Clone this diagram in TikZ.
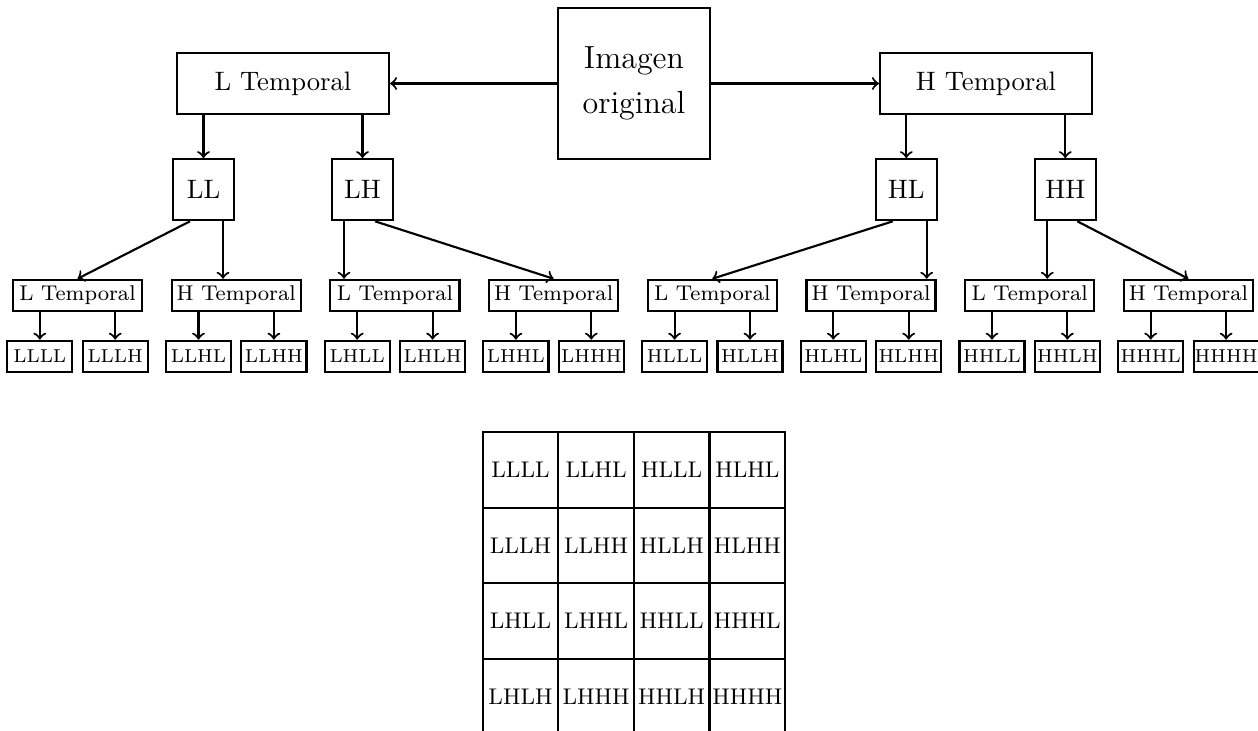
\documentclass[tikz,border=0pt]{standalone}
\usetikzlibrary{calc}
\begin{document}
\begin{tikzpicture}[x=0.375pt,y=-0.375pt,
  box/.style={draw, thick, inner sep=0pt, align=center},
  srcbox/.style={box, minimum width=57pt, minimum height=56.6pt, font=\large},
  topbox/.style={box, minimum width=79.5pt, minimum height=22.9pt},
  bandbox/.style={box, minimum width=22.9pt, minimum height=22.9pt},
  midbox/.style={box, minimum width=48.4pt, minimum height=11.6pt, font=\footnotesize},
  leafbox/.style={box, minimum width=24.4pt, minimum height=11.6pt, font=\scriptsize},
  cell/.style={box, minimum width=28.35pt, minimum height=28.35pt, font=\fontsize{8.5}{10}\selectfont},
  arr/.style={->, thick}]
\useasboundingbox (0,0) rectangle (1258,731);

% source image and first temporal split
\node[srcbox] (img) at (634,83.5) {Imagen\\[3pt]original};
\node[topbox] (LT) at (283,83.5) {L Temporal};
\node[topbox] (HT) at (986,83.5) {H Temporal};
\draw[arr] (img.west) -- (LT.east);
\draw[arr] (img.east) -- (HT.west);

% second level bands
\node[bandbox] (LL) at (203.5,189.7) {LL};
\node[bandbox] (LH) at (362.5,189.7) {LH};
\node[bandbox] (HL) at (906.3,189.7) {HL};
\node[bandbox] (HH) at (1065.3,189.7) {HH};
\foreach \p/\c in {LT/LL, LT/LH, HT/HL, HT/HH}
  \draw[arr] (\p.south -| \c) -- (\c.north);

% third temporal split
\foreach \i/\t in {1/L,2/H,3/L,4/H,5/L,6/H,7/L,8/H}
  \node[midbox] (m\i) at ({77.5+158.7*(\i-1)},295.3) {\t\ Temporal};

% connectors from the bands to the temporal boxes
\foreach \b/\d/\v/\ds/\vs in {LL/m1/m2/-13.5/19.5, HL/m5/m6/-13.5/20.4,
                              LH/m4/m3/12.5/-18.5, HH/m8/m7/12/-18} {
  \coordinate (\b-d) at ($(\b.south)+(\ds,0)$);
  \coordinate (\b-v) at ($(\b.south)+(\vs,0)$);
  \draw[arr] (\b-d) -- (\d.north);
  \draw[arr] (\b-v) -- (\b-v |- \v.north);
}

% leaves
\foreach \k/\lab in {1/LLLL,2/LLLH,3/LLHL,4/LLHH,5/LHLL,6/LHLH,7/LHHL,8/LHHH,
                     9/HLLL,10/HLLH,11/HLHL,12/HLHH,13/HHLL,14/HHLH,15/HHHL,16/HHHH} {
  \pgfmathtruncatemacro{\pa}{int((\k+1)/2)}
  \pgfmathsetmacro{\side}{ifthenelse(mod(\k,2)==1,-37.7,37.7)}
  \node[leafbox] (l\k) at ({77.5+158.7*(\pa-1)+\side},356.2) {\lab};
  \draw[arr] (m\pa.south -| l\k) -- (l\k.north);
}

% arrangement of the sixteen sub-bands
\foreach \r/\row in {1/{LLLL,LLHL,HLLL,HLHL}, 2/{LLLH,LLHH,HLLH,HLHH},
                     3/{LHLL,LHHL,HHLL,HHHL}, 4/{LHLH,LHHH,HHLH,HHHH}} {
  \foreach \lab [count=\c] in \row
    \node[cell] (g\r\c) at ({520.5+75.6*(\c-1)},{469.8+75.6*(\r-1)}) {\lab};
}
\end{tikzpicture}
\end{document}
